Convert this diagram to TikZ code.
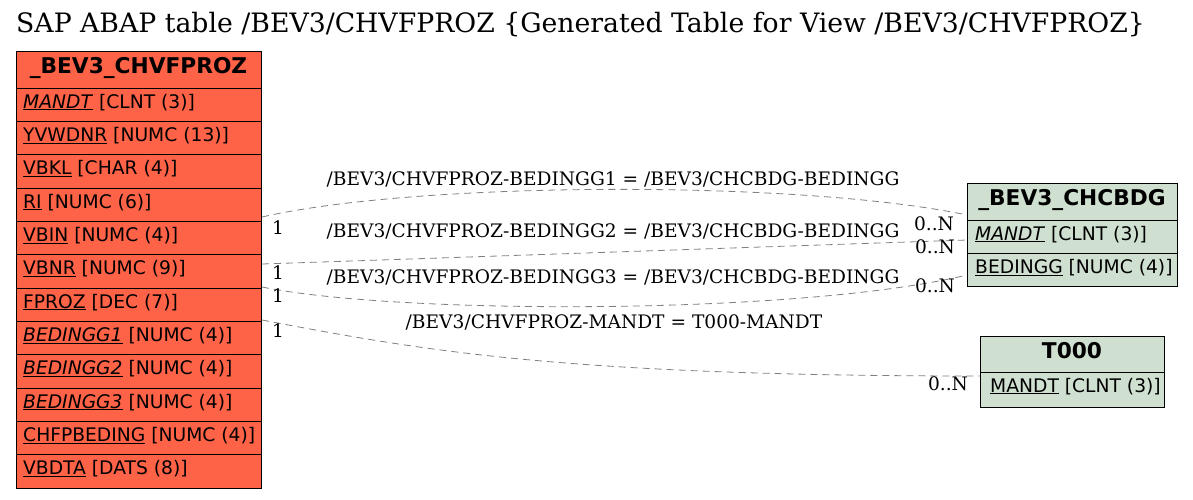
\documentclass[tikz,border=0pt]{standalone}
\usepackage{fontspec}
\setmainfont{DejaVu Serif}
\newfontfamily\tabfont{DejaVu Sans}
\usetikzlibrary{calc}
\definecolor{redfill}{RGB}{255,99,71}
\definecolor{greenfill}{RGB}{208,224,208}
\definecolor{edgegray}{RGB}{128,128,128}
\tikzset{
  tbox/.style={draw=black, line width=1pt, anchor=north west, inner sep=0pt, outer sep=0pt},
  lrow/.style={tbox, fill=redfill, minimum width=245pt, minimum height=33.33pt},
  rrow/.style={tbox, fill=greenfill, minimum width=210pt, minimum height=33.33pt},
  trow/.style={tbox, fill=greenfill, minimum width=184pt, minimum height=35pt},
  rowtxt/.style={anchor=base west, inner sep=0pt, font=\tabfont\fontsize{18.7}{20}\selectfont},
  hdrtxt/.style={anchor=base, inner sep=0pt, font=\tabfont\bfseries\fontsize{21.7}{24}\selectfont},
  lbl/.style={anchor=base, inner sep=0pt, font=\fontsize{18.6}{21}\selectfont},
  card/.style={anchor=base, inner sep=0pt, font=\fontsize{18.6}{21}\selectfont},
  rel/.style={draw=edgegray, dash pattern=on 7pt off 5pt, line width=0.8pt}
}
\begin{document}
\begin{tikzpicture}[x=1pt,y=-1pt]
\useasboundingbox (0,0) rectangle (1193,499);
\fill[white] (0,0) rectangle (1193,499);

\node[anchor=base west, inner sep=0pt, font=\fontsize{26.7}{30}\selectfont] (title) at (16,32) {SAP ABAP table /BEV3/CHVFPROZ \{Generated Table for View /BEV3/CHVFPROZ\}};

% left table
\node[tbox, fill=redfill, minimum width=245pt, minimum height=37pt] (lh) at (16,51) {};
\node[hdrtxt] (lht) at ($(lh.north)+(0,22.5)$) {\_BEV3\_CHVFPROZ};
\node[lrow] (l1) at (16,88) {};
\node[lrow] (l2) at (16,121.33) {};
\node[lrow] (l3) at (16,154.67) {};
\node[lrow] (l4) at (16,188) {};
\node[lrow] (l5) at (16,221.33) {};
\node[lrow] (l6) at (16,254.67) {};
\node[lrow] (l7) at (16,288) {};
\node[lrow] (l8) at (16,321.33) {};
\node[lrow] (l9) at (16,354.67) {};
\node[lrow] (l10) at (16,388) {};
\node[lrow] (l11) at (16,421.33) {};
\node[lrow] (l12) at (16,454.67) {};
\node[rowtxt] (l1t) at ($(l1.north west)+(7,20)$) {\underline{\textit{MANDT}} [CLNT (3)]};
\node[rowtxt] (l2t) at ($(l2.north west)+(7,20)$) {\underline{YVWDNR} [NUMC (13)]};
\node[rowtxt] (l3t) at ($(l3.north west)+(7,20)$) {\underline{VBKL} [CHAR (4)]};
\node[rowtxt] (l4t) at ($(l4.north west)+(7,20)$) {\underline{RI} [NUMC (6)]};
\node[rowtxt] (l5t) at ($(l5.north west)+(7,20)$) {\underline{VBIN} [NUMC (4)]};
\node[rowtxt] (l6t) at ($(l6.north west)+(7,20)$) {\underline{VBNR} [NUMC (9)]};
\node[rowtxt] (l7t) at ($(l7.north west)+(7,20)$) {\underline{FPROZ} [DEC (7)]};
\node[rowtxt] (l8t) at ($(l8.north west)+(7,20)$) {\underline{\textit{BEDINGG1}} [NUMC (4)]};
\node[rowtxt] (l9t) at ($(l9.north west)+(7,20)$) {\underline{\textit{BEDINGG2}} [NUMC (4)]};
\node[rowtxt] (l10t) at ($(l10.north west)+(7,20)$) {\underline{\textit{BEDINGG3}} [NUMC (4)]};
\node[rowtxt] (l11t) at ($(l11.north west)+(7,20)$) {\underline{CHFPBEDING} [NUMC (4)]};
\node[rowtxt] (l12t) at ($(l12.north west)+(7,20)$) {\underline{VBDTA} [DATS (8)]};

% CHCBDG table
\node[tbox, fill=greenfill, minimum width=210pt, minimum height=37pt] (ch) at (967,183) {};
\node[hdrtxt] (cht) at ($(ch.north)+(0,22.5)$) {\_BEV3\_CHCBDG};
\node[rrow] (c1) at (967,220) {};
\node[rrow] (c2) at (967,253.33) {};
\node[rowtxt] (c1t) at ($(c1.north west)+(8,20)$) {\underline{\textit{MANDT}} [CLNT (3)]};
\node[rowtxt] (c2t) at ($(c2.north west)+(8,20)$) {\underline{BEDINGG} [NUMC (4)]};

% T000 table
\node[tbox, fill=greenfill, minimum width=184pt, minimum height=36pt] (th) at (980,336) {};
\node[hdrtxt] (tht) at ($(th.north)+(0,22.5)$) {T000};
\node[trow] (t1) at (980,372) {};
\node[rowtxt] (t1t) at ($(t1.north west)+(10,20)$) {\underline{MANDT} [CLNT (3)]};

% connector end points
\coordinate (e1a) at (262,217);
\coordinate (e1b) at (967,215);
\coordinate (e2a) at (262,264);
\coordinate (e2b) at (967,240);
\coordinate (e3a) at (262,287);
\coordinate (e3b) at (967,275);
\coordinate (e4a) at (262,320);
\coordinate (e4b) at (980,376);

\draw[rel] (e1a) .. controls (420,181) and (800,180) .. (e1b);
\draw[rel] (e2a) .. controls (500,256) and (730,248) .. (e2b);
\draw[rel] (e3a) .. controls (400,315) and (800,315) .. (e3b);
\draw[rel] (e4a) .. controls (420,350) and (560,376) .. (e4b);

\node[lbl] (lab1) at (613,185) {/BEV3/CHVFPROZ-BEDINGG1 = /BEV3/CHCBDG-BEDINGG};
\node[lbl] (lab2) at (613,237) {/BEV3/CHVFPROZ-BEDINGG2 = /BEV3/CHCBDG-BEDINGG};
\node[lbl] (lab3) at (613,283) {/BEV3/CHVFPROZ-BEDINGG3 = /BEV3/CHCBDG-BEDINGG};
\node[lbl] (lab4) at (614,328) {/BEV3/CHVFPROZ-MANDT = T000-MANDT};

\node[card] (o1) at (278,234) {1};
\node[card] (o2) at (278,279) {1};
\node[card] (o3) at (278,302) {1};
\node[card] (o4) at (278,337) {1};
\node[card] (n1) at (934,230) {0..N};
\node[card] (n2) at (935,253) {0..N};
\node[card] (n3) at (935,292) {0..N};
\node[card] (n4) at (948,390) {0..N};
\end{tikzpicture}
\end{document}
